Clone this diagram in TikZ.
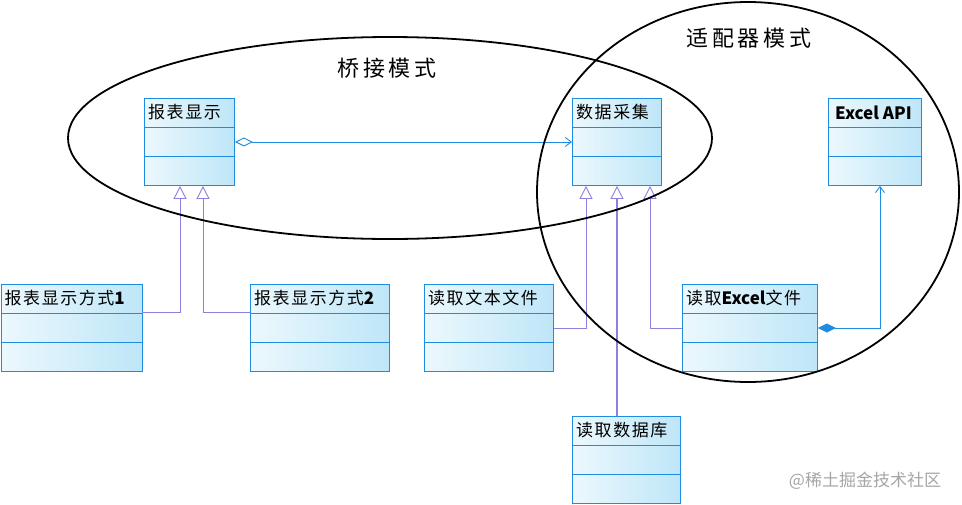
\documentclass[tikz,border=0pt]{standalone}
\usepackage{fontspec}
\newfontfamily\cjk{Noto Sans CJK SC}
\newfontfamily\cjkbox[LetterSpace=9]{Noto Sans CJK SC}
\newfontfamily\cjktitle[LetterSpace=18]{Noto Sans CJK SC}
\newcommand\latb[1]{{\cjk\bfseries #1}}
\usetikzlibrary{arrows.meta,calc}
\definecolor{boxline}{RGB}{30,140,225}
\definecolor{boxlight}{RGB}{236,248,253}
\definecolor{boxdark}{RGB}{190,230,248}
\definecolor{genc}{RGB}{140,128,225}
\tikzset{
  umlbox/.style={draw=boxline, line width=0.9pt, left color=boxlight, right color=boxdark, shading=axis, anchor=north west, inner sep=0pt},
  umltext/.style={anchor=west, font=\cjkbox\fontsize{17}{19}\selectfont, inner sep=0pt, text=black},
  gen/.style={draw=genc, line width=0.9pt, -{Triangle[open,width=13pt,length=13pt,fill=white]}},
  genthick/.style={draw=genc, line width=2pt, -{Triangle[open,width=13pt,length=13pt,fill=white,line width=0.9pt]}},
  agg/.style={draw=boxline, line width=0.9pt, {Diamond[open,length=18pt,width=9pt,fill=white]}-{Straight Barb[length=6pt,width=9pt]}},
  comp/.style={draw=boxline, line width=0.9pt, {Diamond[length=18pt,width=9pt]}-{Straight Barb[length=6pt,width=9pt]}},
  region/.style={draw=black, line width=1.8pt},
  regionlabel/.style={font=\cjktitle\fontsize{22}{24}\selectfont, inner sep=0pt}
}
\newcommand\umlcls[6]{%
  \node[umlbox, minimum width=#4, minimum height=87] (#1) at (#2,#3) {};
  \draw[boxline, line width=0.9pt] ($(#1.north west)+(0,29)$) -- ($(#1.north east)+(0,29)$);
  \draw[boxline, line width=0.9pt] ($(#1.north west)+(0,58)$) -- ($(#1.north east)+(0,58)$);
  \node[umltext] (#1-t) at ($(#1.north west)+(4,14.5)$) {#5#6};
}
\begin{document}
\begin{tikzpicture}[x=1pt,y=-1pt]
\useasboundingbox (0,0) rectangle (962,504);
\fill[white] (0,0) rectangle (962,504);
% boxes
\umlcls{r}{144}{98}{90}{报表显示}{}
\umlcls{d}{572}{98}{89}{数据采集}{}
\umlcls{e}{828}{98}{93}{\hspace{3pt}\latb{Excel API}}{}
\umlcls{r1}{0.5}{284}{141}{报表显示方式\latb{1}}{}
\umlcls{r2}{250}{284}{139}{报表显示方式\latb{2}}{}
\umlcls{t}{424}{284}{129}{读取文本文件}{}
\umlcls{x}{682}{284}{135}{读取\latb{Excel}文件}{}
\umlcls{db}{572}{416}{108}{读取数据库}{}
% connectors
\draw[agg] (r.east) -- (d.west);
\draw[gen] ($(r1.north east)+(0,28)$) -| ($(r.south west)+(36,0)$);
\draw[gen] ($(r2.north west)+(0,28)$) -| ($(r.south west)+(59,0)$);
\draw[gen] ($(t.north east)+(0,44)$) -| ($(d.south west)+(14,0)$);
\draw[genthick] ($(db.north west)+(45,0)$) -- ($(d.south west)+(45,0)$);
\draw[gen] ($(x.north west)+(0,44)$) -| ($(d.south west)+(78,0)$);
\draw[comp] ($(x.north east)+(0,44)$) -| ($(e.south west)+(52,0)$);
% regions
\draw[region] (390,138) ellipse [x radius=322, y radius=101];
\draw[region] (748,192) ellipse [x radius=211, y radius=190];
\node[regionlabel] (lb) at (387,68) {桥接模式};
\node[regionlabel] (la) at (749,38) {适配器模式};
\node[font=\cjk\fontsize{17}{19}\selectfont, text=gray!70, inner sep=0pt] (wm) at (865,481) {@稀土掘金技术社区};
\end{tikzpicture}
\end{document}
